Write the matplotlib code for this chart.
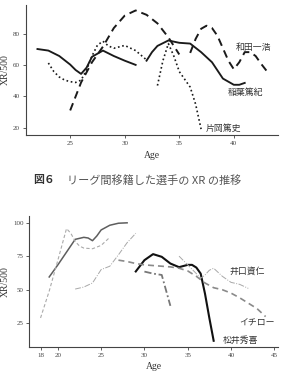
import matplotlib
matplotlib.use("Agg")
import matplotlib.pyplot as plt

SERIF = ["Liberation Serif", "DejaVu Serif"]
JP = ["Noto Sans CJK JP", "DejaVu Sans"]

# --- top panel: 図6 ---
inaba_age1 = [22, 23, 24, 25, 25.5, 26, 26.5, 27, 28, 29, 30, 31]
inaba_xr1 = [70.5, 69.5, 66, 60.5, 57, 54.5, 58.5, 65.5, 69.5, 66, 63, 60.3]
inaba_age2 = [32, 32.5, 33, 34, 35, 36, 37, 38, 39, 40, 40.5, 41]
inaba_xr2 = [63, 68.5, 72.5, 76, 74.5, 74, 68.5, 62, 51.5, 47.5, 47.5, 48.7]

wada_age1 = [25, 26, 27, 28, 29, 30, 31, 32, 33, 34, 35]
wada_xr1 = [31, 49, 62, 72, 84, 92, 95.3, 92.5, 87, 78, 67]
wada_age2 = [36, 36.5, 37, 37.5, 38, 38.5, 39, 39.5, 40, 40.5, 41, 41.5, 42, 42.5, 43]
wada_xr2 = [68, 77, 83.5, 85.5, 84, 79, 71, 63, 57.5, 62, 68.5, 68.5, 66, 61, 56.5]

kataoka_age1 = [23, 23.5, 24, 24.5, 25, 25.5, 26, 26.5, 27, 27.5, 28, 28.5, 29, 30, 31, 32]
kataoka_xr1 = [61.5, 56, 52.5, 50.5, 49.5, 49, 50.5, 57, 66, 73, 75.5, 72.5, 71, 72.8, 69.5, 63.5]
kataoka_age2 = [33, 33.5, 34, 34.5, 35, 35.5, 36, 36.5, 37]
kataoka_xr2 = [47, 63, 74, 66, 56, 51, 46, 35, 19]

# --- bottom panel ---
matsui_age1 = [19, 20, 21, 22, 23, 23.5, 24, 24.5, 25, 26, 27, 28]
matsui_xr1 = [59.5, 68.5, 78, 87.5, 89, 88.5, 86.5, 90, 94.5, 98, 99.5, 99.8]
matsui_age2 = [29, 30, 31, 32, 33, 34, 35, 35.5, 36, 36.5, 37, 37.5, 38]
matsui_xr2 = [63.6, 72, 76.5, 74.5, 69.5, 66.8, 68.5, 68.5, 66.5, 62, 47, 29, 12]

ichiro_age1 = [18, 19, 20, 21, 21.5, 22, 22.5, 23, 24, 25, 26]
ichiro_xr1 = [29, 49, 72, 95.5, 92, 86, 82.5, 81, 80.5, 83, 89]
ichiro_age2 = [27, 28, 29, 30, 31, 32, 33, 34, 35, 36, 37, 38, 39, 40, 41, 42, 43, 44]
ichiro_xr2 = [72, 71, 69.5, 68.5, 68, 67.5, 67, 66, 64, 60, 55, 51.5, 50, 47.5, 44, 40, 36, 30]

iguchi_age1 = [22, 23, 24, 24.5, 25, 26, 27, 28, 29]
iguchi_xr1 = [50.5, 52, 55, 60, 65, 67.5, 76, 85, 92]
iguchi_age2 = [30, 31, 32, 33]
iguchi_xr2 = [63.5, 62, 61, 38]
iguchi_age3 = [34, 35, 36, 36.5, 37, 37.5, 38, 39, 40, 41, 42]
iguchi_xr3 = [75, 68.5, 62, 58.5, 61, 64.5, 66, 60, 55.5, 54, 51]

fig = plt.figure(figsize=(2.82, 3.83), dpi=100)
ax1 = fig.add_axes([0.0922, 0.6475, 0.8936, 0.3394])
ax2 = fig.add_axes([0.1039, 0.0948, 0.8809, 0.3413])

k = "#1a1a1a"
dash = (0, (4, 2.6))
dot = (0, (1, 1.6))
ax1.plot(inaba_age1, inaba_xr1, color=k, lw=1.35)
ax1.plot(inaba_age2, inaba_xr2, color=k, lw=1.35)
ax1.plot(wada_age1, wada_xr1, color=k, lw=1.4, ls=dash)
ax1.plot(wada_age2, wada_xr2, color=k, lw=1.4, ls=dash)
ax1.plot(kataoka_age1, kataoka_xr1, color=k, lw=1.2, ls=dot)
ax1.plot(kataoka_age2, kataoka_xr2, color=k, lw=1.2, ls=dot)
ax1.set_xlim(20.95, 44.05)
ax1.set_ylim(15.2, 98.8)
ax1.set_xticks([25, 30, 35, 40])
ax1.set_yticks([20, 40, 60, 80])
lab_kw = dict(fontsize=6.4, family=JP, color="#333", va="center")
ax1.text(40.2, 71.2, "和田一浩", **lab_kw)
ax1.text(39.4, 42.4, "稲葉篤紀", **lab_kw)
ax1.text(37.45, 19.2, "片岡篤史", **lab_kw)

ax2.plot(matsui_age1, matsui_xr1, color="#5e5e5e", lw=1.1)
ax2.plot(matsui_age2, matsui_xr2, color="#111111", lw=1.5)
ax2.plot(ichiro_age1, ichiro_xr1, color="#aaaaaa", lw=0.8, ls=(0, (3, 2)))
ax2.plot(ichiro_age2, ichiro_xr2, color="#8a8a8a", lw=1.2, ls=(0, (3.6, 2.4)))
ax2.plot(iguchi_age1, iguchi_xr1, color="#a8a8a8", lw=0.7, ls=(0, (6, 1.5, 1, 1.5)))
ax2.plot(iguchi_age2, iguchi_xr2, color="#777777", lw=1.3, ls=(0, (4, 1.5, 1, 1.5)))
ax2.plot(iguchi_age3, iguchi_xr3, color="#a8a8a8", lw=0.7, ls=(0, (6, 1.5, 1, 1.5)))
ax2.set_xlim(16.7, 45.4)
ax2.set_ylim(7.6, 104.9)
ax2.set_xticks([18, 20, 25, 30, 35, 40, 45])
ax2.set_yticks([25, 50, 75, 100])
ax2.text(39.8, 63.6, "井口資仁", **lab_kw)
ax2.text(40.9, 25.5, "イチロー", **lab_kw)
ax2.text(39.0, 12, "松井秀喜", **lab_kw)

for ax in (ax1, ax2):
    for s in ("top", "right"):
        ax.spines[s].set_visible(False)
    for s in ("left", "bottom"):
        ax.spines[s].set_color("#444")
        ax.spines[s].set_linewidth(0.8)
    ax.tick_params(length=2, width=0.6, color="#444", labelsize=5,
                   labelcolor="#444", pad=2.2)
    for lab in ax.get_xticklabels() + ax.get_yticklabels():
        lab.set_family(SERIF)
    ax.set_xlabel("Age", family=SERIF, fontsize=7, color="#333", labelpad=3.5)
    ax.set_ylabel("XR/500", family=SERIF, fontsize=7, color="#333", labelpad=2)

# caption between the panels
fig.text(0.118, 0.530, "図６", family=JP, fontsize=7.8, fontweight="bold",
         color="#333", ha="left", va="center")
fig.text(0.238, 0.530, "リーグ間移籍した選手の XR の推移",
         family=JP, fontsize=8.0, color="#555", ha="left", va="center")

fig.savefig("out.png", dpi=100)
